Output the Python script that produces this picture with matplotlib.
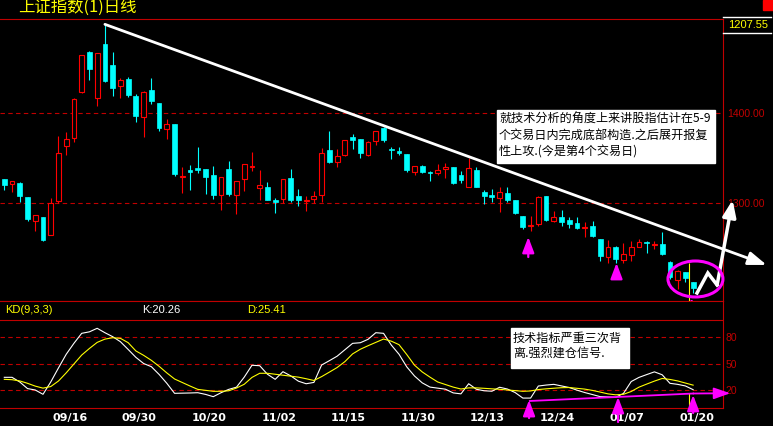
import numpy as np
import matplotlib
matplotlib.use('Agg')
import matplotlib.pyplot as plt
import matplotlib.transforms as mtransforms
from matplotlib.patches import Ellipse, Rectangle
from matplotlib.lines import Line2D

plt.rcParams['font.family'] = ['Noto Sans CJK SC', 'DejaVu Sans']

# daily candles, 上证指数
opens = [1326, 1321, 1322, 1306, 1279, 1284, 1264, 1302, 1363, 1372,
         1423, 1467, 1416, 1476, 1453, 1429, 1437, 1418, 1395, 1425,
         1411, 1382, 1387, 1328, 1336, 1338, 1337, 1331, 1308, 1337,
         1308, 1326, 1340, 1316, 1317, 1303, 1304, 1327, 1307, 1302,
         1304, 1308, 1358, 1345, 1353, 1373, 1371, 1353, 1368, 1383,
         1359, 1357, 1354, 1334, 1341, 1334, 1333, 1337, 1339, 1331,
         1317, 1336, 1312, 1308, 1305, 1311, 1303, 1285, 1274, 1276,
         1307, 1279, 1284, 1281, 1277, 1272, 1274, 1259, 1239, 1251,
         1236, 1242, 1251, 1256, 1253, 1254, 1234, 1214, 1223, 1212]
closes = [1319, 1324, 1307, 1282, 1286, 1258, 1299, 1355, 1371, 1415,
          1464, 1448, 1466, 1435, 1427, 1436, 1419, 1396, 1423, 1413,
          1383, 1387, 1332, 1329, 1334, 1336, 1328, 1308, 1328, 1309,
          1324, 1343, 1341, 1319, 1303, 1301, 1326, 1303, 1303, 1303,
          1307, 1355, 1345, 1352, 1369, 1369, 1355, 1367, 1379, 1369,
          1358, 1355, 1336, 1341, 1334, 1333, 1336, 1339, 1322, 1325,
          1338, 1317, 1307, 1306, 1312, 1303, 1288, 1273, 1275, 1306,
          1281, 1284, 1278, 1276, 1272, 1273, 1263, 1241, 1251, 1237,
          1243, 1251, 1256, 1255, 1254, 1243, 1217, 1224, 1216, 1205]
highs = [1326, 1324, 1323, 1306, 1286, 1284, 1305, 1374, 1378, 1416,
         1464, 1468, 1466, 1498, 1467, 1438, 1439, 1421, 1424, 1438,
         1411, 1393, 1387, 1339, 1342, 1362, 1337, 1341, 1328, 1346,
         1324, 1343, 1356, 1336, 1323, 1305, 1326, 1337, 1315, 1307,
         1313, 1361, 1379, 1359, 1370, 1376, 1371, 1368, 1380, 1384,
         1362, 1362, 1354, 1341, 1342, 1335, 1343, 1344, 1339, 1335,
         1349, 1339, 1314, 1315, 1317, 1317, 1303, 1285, 1285, 1307,
         1307, 1291, 1292, 1284, 1284, 1278, 1279, 1260, 1258, 1252,
         1255, 1257, 1259, 1257, 1257, 1267, 1235, 1225, 1223, 1212]
lows = [1314, 1312, 1301, 1279, 1268, 1257, 1264, 1299, 1353, 1367,
        1422, 1436, 1407, 1434, 1418, 1416, 1417, 1389, 1373, 1409,
        1379, 1371, 1329, 1311, 1314, 1333, 1309, 1304, 1292, 1307,
        1287, 1313, 1335, 1303, 1303, 1288, 1299, 1301, 1296, 1291,
        1299, 1301, 1344, 1339, 1352, 1359, 1349, 1352, 1364, 1367,
        1348, 1353, 1334, 1331, 1333, 1324, 1331, 1327, 1321, 1322,
        1317, 1317, 1298, 1301, 1289, 1301, 1287, 1271, 1268, 1274,
        1279, 1278, 1274, 1272, 1271, 1262, 1262, 1235, 1233, 1233,
        1233, 1235, 1251, 1244, 1248, 1242, 1215, 1204, 1212, 1199]

# KD(9,3,3)
k_vals = [34.3, 34.3, 29.0, 21.5, 19.9, 15.0, 29.0, 45.0, 60.5, 73.0,
          84.3, 86.0, 90.0, 85.0, 80.5, 74.8, 66.0, 57.0, 50.0, 46.4,
          37.6, 27.5, 16.1, 16.3, 16.5, 16.8, 14.9, 12.3, 16.8, 20.6,
          23.1, 34.5, 48.0, 47.5, 37.8, 32.0, 40.7, 36.0, 29.9, 27.0,
          28.5, 48.3, 53.2, 58.3, 65.6, 72.9, 73.6, 77.5, 85.0, 84.3,
          71.0, 60.5, 46.2, 35.8, 28.0, 23.2, 22.0, 20.8, 16.6, 15.5,
          27.0, 20.7, 19.0, 18.5, 23.0, 21.0, 17.0, 10.7, 10.7, 24.4,
          25.5, 26.3, 24.5, 22.7, 19.7, 17.0, 14.7, 12.3, 12.0, 11.6,
          16.0, 29.5, 34.2, 37.4, 40.5, 37.2, 27.5, 26.3, 24.5, 20.26]
d_vals = [32.0, 31.6, 30.2, 27.5, 24.3, 22.0, 23.8, 30.1, 39.4, 49.5,
          59.6, 67.1, 74.0, 77.7, 79.3, 78.6, 73.7, 64.3, 59.3, 53.6,
          46.8, 39.3, 32.4, 28.4, 24.4, 20.6, 19.5, 18.4, 18.4, 19.0,
          22.1, 26.4, 34.2, 38.9, 38.9, 37.8, 36.7, 35.6, 34.5, 32.7,
          30.7, 35.1, 40.2, 45.4, 52.1, 60.9, 66.2, 70.2, 74.0, 77.8,
          75.4, 71.4, 60.2, 48.1, 40.4, 34.5, 29.0, 26.1, 23.2, 21.0,
          22.3, 22.3, 21.8, 21.2, 20.7, 19.9, 19.2, 18.4, 18.8, 20.4,
          21.2, 21.9, 22.5, 22.7, 21.8, 20.9, 19.4, 17.5, 15.5, 14.4,
          15.0, 18.2, 23.1, 26.6, 30.0, 33.0, 31.9, 30.2, 27.8, 25.41]

dates = ['09/16', '09/30', '10/20', '11/02', '11/15', '11/30', '12/13', '12/24', '01/07', '01/20']
date_idx = [8, 17, 26, 35, 44, 53, 62, 71, 80, 89]

RED = '#c00000'
UP = '#ff0000'
CYAN = '#00ffff'
MAG = '#ff00ff'

W, H = 773, 426
fig = plt.figure(figsize=(W / 100, H / 100), dpi=100, facecolor='black')


def box(x0, y0, x1, y1):
    # pixel box measured from the top-left corner -> figure fraction rect
    return [x0 / W, 1 - y1 / H, (x1 - x0) / W, (y1 - y0) / H]


ax = fig.add_axes(box(0, 19.3, 723, 300.5))
kd = fig.add_axes(box(0, 300.5, 723, 407.5), sharex=ax)

for a in (ax, kd):
    a.set_facecolor('black')
    a.spines['left'].set_visible(False)
    for s in ('top', 'bottom', 'right'):
        a.spines[s].set_color(RED)
        a.spines[s].set_linewidth(0.8)

x = np.arange(len(opens))
o = np.array(opens, float)
c = np.array(closes, float)
up = c >= o

# candles
ax.vlines(x, lows, highs, colors=np.where(up, UP, CYAN), lw=0.8, zorder=2)
bot = np.minimum(o, c)
hgt = np.maximum(np.abs(c - o), 0.6)
ax.bar(x[up], hgt[up], bottom=bot[up], width=0.62, facecolor='black',
       edgecolor=UP, lw=0.8, zorder=3)
ax.bar(x[~up], hgt[~up], bottom=bot[~up], width=0.62, color=CYAN,
       edgecolor=CYAN, lw=0.5, zorder=3)

ax.set_xlim(-0.556, 92.86)
ax.set_ylim(1191.1, 1503.6)
ax.yaxis.tick_right()
ax.set_yticks([1300, 1400])
ax.set_yticklabels(['1300.00', '1400.00'], family='Liberation Sans')
ax.tick_params(axis='y', length=0, pad=3, labelcolor=RED, labelsize=7.5)
ax.tick_params(axis='x', bottom=False, labelbottom=False)
ax.grid(axis='y', color=RED, ls=(0, (4, 3)), lw=0.8)

# trend line from the top
ax.annotate('', xy=(98.5, 1230.6), xytext=(13, highs[13]),
            arrowprops=dict(arrowstyle='-|>,head_length=1.1,head_width=0.4',
                            color='white', lw=2, shrinkA=0, shrinkB=0),
            annotation_clip=False, zorder=5)

# zigzag rebound arrow
ax.plot([89.5, 90.9, 92.1], [1199.4, 1221.7, 1208.3], color='white', lw=2.5,
        clip_on=False, zorder=6, solid_joinstyle='miter')
ax.annotate('', xy=(94.1, 1302.8), xytext=(92.1, 1208.3),
            arrowprops=dict(arrowstyle='-|>,head_length=1.0,head_width=0.4',
                            color='white', lw=2.5, shrinkA=0, shrinkB=0),
            annotation_clip=False, zorder=6)

ax.add_patch(Ellipse((89.3, 1215), 7.1, 40, fill=False, edgecolor=MAG,
                     lw=2.2, clip_on=False, zorder=7))
ax.vlines(88.5, 1191.1, 1232.8, color='yellow', lw=0.8, zorder=4)

# magenta up arrows on the price panel
for xi, tip, tail in [(67.7, 1261.7, 1239.4), (79.1, 1232.8, 1217.2), (88.8, 1193.9, 1175.0)]:
    ax.annotate('', xy=(xi, tip), xytext=(xi, tail),
                arrowprops=dict(arrowstyle='-|>,head_length=0.95,head_width=0.36',
                                color=MAG, lw=1.6, shrinkA=0, shrinkB=0),
                annotation_clip=False, zorder=8)

# KD panel
kd.plot(x, k_vals, color='white', lw=0.8, zorder=3)
kd.plot(x, d_vals, color='yellow', lw=0.8, zorder=3)
kd.set_ylim(0, 121.6)
kd.axhline(100, color=RED, lw=0.8)
kd.yaxis.tick_right()
kd.set_yticks([20, 50, 80])
kd.set_yticklabels(['20', '50', '80'], family='Liberation Sans')
kd.tick_params(axis='y', length=0, pad=2, labelcolor=RED, labelsize=7.5)
kd.grid(axis='y', color=RED, ls=(0, (4, 3)), lw=0.8)
kd.set_xticks(date_idx)
kd.set_xticklabels(dates, family='DejaVu Sans', weight='bold')
kd.tick_params(axis='x', length=0, pad=4, labelcolor='white', labelsize=8)
shift = mtransforms.ScaledTranslation(0.035, 0, fig.dpi_scale_trans)
for lbl in kd.get_xticklabels():
    lbl.set_transform(lbl.get_transform() + shift)

kd.text(5 / 723, 0.911, 'KD(9,3,3)', color='yellow', fontsize=8,
        family='Liberation Sans', va='center', transform=kd.transAxes)
kd.text(142 / 723, 0.911, f'K:{k_vals[-1]:.2f}', color='white', fontsize=8,
        family='Liberation Sans', va='center', transform=kd.transAxes)
kd.text(247 / 723, 0.911, f'D:{d_vals[-1]:.2f}', color='yellow', fontsize=8,
        family='Liberation Sans', va='center', transform=kd.transAxes)

kd.vlines(88.5, 0, 16.5, color='yellow', lw=0.8, zorder=4)
kd.plot([67.9, 89], [7.4, 15.9], color=MAG, lw=1.3, clip_on=False, zorder=5)
kd.annotate('', xy=(93.8, 16.2), xytext=(89, 15.9),
            arrowprops=dict(arrowstyle='-|>,head_length=1.0,head_width=0.35',
                            color=MAG, lw=1.3, shrinkA=0, shrinkB=0),
            annotation_clip=False, zorder=5)
for xi, tip, tail in [(67.8, 8.5, -12.0), (79.3, 11.9, -16.5), (89.0, 14.2, -6.3)]:
    kd.annotate('', xy=(xi, tip), xytext=(xi, tail),
                arrowprops=dict(arrowstyle='-|>,head_length=0.95,head_width=0.36',
                                color=MAG, lw=1.6, shrinkA=0, shrinkB=0),
                annotation_clip=False, zorder=8)

# header
fig.text(18 / W, 1 - 7.5 / H, '上证指数(1)日线', color='yellow', fontsize=11.8, va='center')
fig.add_artist(Rectangle((763 / W, 1 - 10 / H), 10 / W, 10 / H, color=UP,
                         transform=fig.transFigure))
for yy in (16.7, 33.3):
    fig.add_artist(Line2D([723 / W, 771 / W], [1 - yy / H, 1 - yy / H],
                          color='white', lw=1, transform=fig.transFigure))
fig.text(728 / W, 1 - 25 / H, '1207.55', color='yellow', fontsize=8,
         family='Liberation Sans', va='center')

# comment boxes
fig.add_artist(Rectangle((497 / W, 1 - 162.7 / H), 218 / W, 52.7 / H,
                         color='white', transform=fig.transFigure, zorder=9))
lines1 = ['就技术分析的角度上来讲股指估计在5-9',
          '个交易日内完成底部构造.之后展开报复',
          '性上攻.(今是第4个交易日)']
for t, yy in zip(lines1, [119, 135.5, 152]):
    fig.text(499 / W, 1 - yy / H, t, color='black', fontsize=8.7, va='center', zorder=10)

fig.add_artist(Rectangle((511 / W, 1 - 368.3 / H), 118 / W, 40.6 / H,
                         color='white', transform=fig.transFigure, zorder=9))
for t, yy in zip(['技术指标严重三次背', '离.强烈建仓信号.'], [338.3, 353.3]):
    fig.text(513 / W, 1 - yy / H, t, color='black', fontsize=8.7, va='center', zorder=10)

fig.savefig('out.png', dpi=100, facecolor='black')
